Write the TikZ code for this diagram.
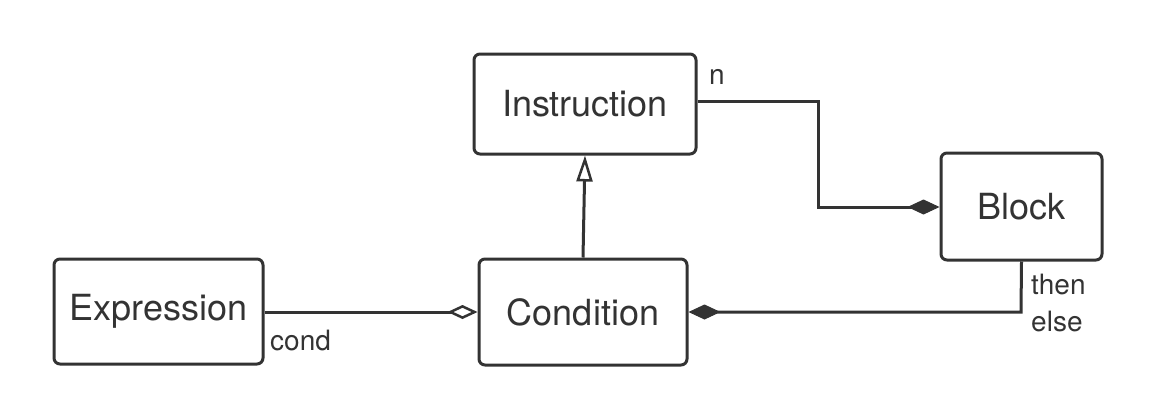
\documentclass[tikz,border=0pt]{standalone}
\usepackage{fontspec}
\setmainfont{TeX Gyre Heros}
\usetikzlibrary{arrows.meta}
\definecolor{ink}{HTML}{333333}
\begin{document}
\begin{tikzpicture}[x=1pt,y=-1pt,
  box/.style={draw=ink, line width=3pt, rounded corners=6pt, inner sep=0pt, text=ink,
    font=\fontsize{36}{40}\selectfont},
  conn/.style={draw=ink, line width=3pt},
  lbl/.style={text=ink, font=\fontsize{28}{32}\selectfont, inner sep=0pt},
  filldia/.style={-{Diamond[length=32pt,width=15pt,line width=1pt,fill=ink]}},
  opendia/.style={-{Diamond[open,length=30pt,width=14pt,line width=2.5pt,fill=white]}},
  inherit/.style={-{Triangle[open,length=26pt,width=16pt,line width=2.5pt,fill=white]}}
]
\useasboundingbox (0,0) rectangle (1150,418);
\node[box, minimum width=222pt, minimum height=100pt] (ins) at (585,104) {Instruction};
\node[box, minimum width=161pt, minimum height=107pt] (blk) at (1021.5,206.5) {Block};
\node[box, minimum width=209pt, minimum height=105pt] (exp) at (158.5,311.5) {Expression};
\node[box, minimum width=208pt, minimum height=106pt] (con) at (583,312) {Condition};
\coordinate (c1) at (818,101);
\coordinate (c2) at (818,207);
\coordinate (c3) at (1021,312);
\draw[conn, filldia] (ins.east |- c1) -- (c1) -- (c2) -- (blk.west |- c2);
\draw[conn, inherit] (con.north) -- (ins.south);
\draw[conn, opendia] (exp.east |- con.west) -- (con.west);
\draw[conn, filldia] (blk.south |- blk.south) -- (c3) -- (con.east);
\node[lbl, anchor=west] (ln) at (709,77) {n};
\node[lbl, anchor=west] (lc) at (270,340) {cond};
\node[lbl, anchor=west] (lt) at (1031,284) {then};
\node[lbl, anchor=west] (le) at (1031,321) {else};
\end{tikzpicture}
\end{document}
